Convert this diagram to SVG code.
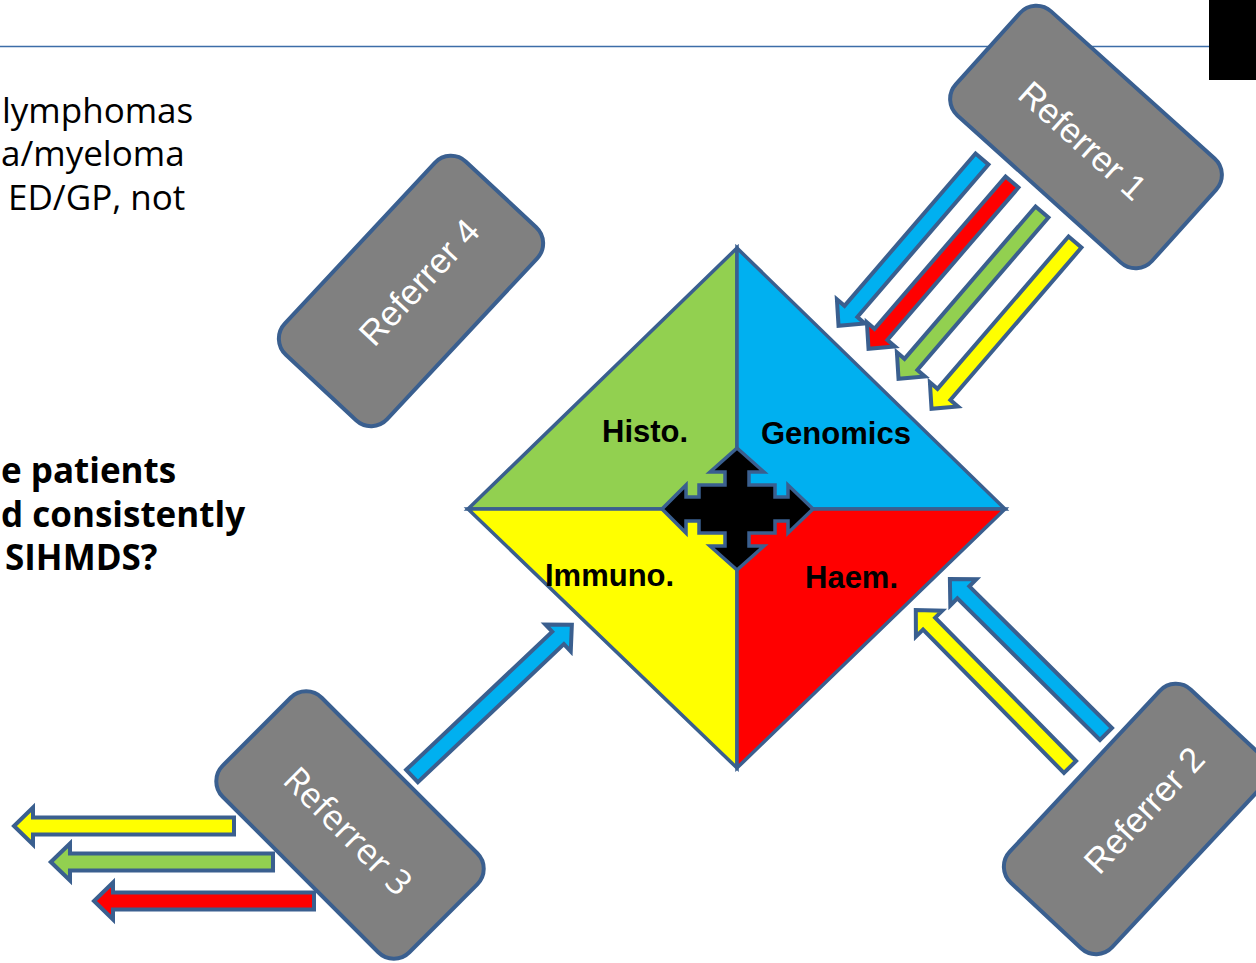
<svg xmlns="http://www.w3.org/2000/svg" width="1256" height="963" viewBox="0 0 1256 963">
<style>
.body{font-family:"Open Sans","Noto Sans","DejaVu Sans",sans-serif;font-size:35px;fill:#000}
.bold{font-weight:bold}
.ref{fill:#808080;stroke:#3A5F8F;stroke-width:4}
.reft{font-family:"Liberation Sans",Arial,sans-serif;font-size:35px;fill:#fff;text-anchor:middle}
.q{stroke:#3A5F8F;stroke-width:3.5;stroke-linejoin:miter}
.lab{font-family:"Liberation Sans",Arial,sans-serif;font-size:31px;font-weight:bold;fill:#000}
.arr{stroke:#3A5F8F;stroke-width:4;stroke-linejoin:miter}
</style>
<defs>
<path id="a220" d="M0,-8.5 L201,-8.5 L201,-18.5 L220,0 L201,18.5 L201,8.5 L0,8.5 Z"/>
</defs>
<rect x="0" y="0" width="1256" height="963" fill="#fff"/>
<line x1="0" y1="46.5" x2="1210" y2="46.5" stroke="#3C6DA8" stroke-width="1.5"/>
<rect x="1209" y="0" width="47" height="80" fill="#000"/>

<g id="body-text">
<text class="body" x="2" y="123">lymphomas</text>
<text class="body" x="1" y="166">a/myeloma</text>
<text class="body" x="8" y="210">ED/GP, not</text>
<text class="body bold" x="1" y="483">e patients</text>
<text class="body bold" x="1" y="527">d consistently</text>
<text class="body bold" x="5" y="570">SIHMDS?</text>
</g>

<g id="hub">
<polygon class="q" fill="#92D050" points="737,248 468,509 737,509"/>
<polygon class="q" fill="#00B0F0" points="737,248 1005,509 737,509"/>
<polygon class="q" fill="#FFFF00" points="468,509 737,768 737,509"/>
<polygon class="q" fill="#FF0000" points="1005,509 737,768 737,509"/>
<path class="q" fill="#000" transform="translate(737,509)" d="M0,-61 L27,-37 L12,-37 L12,-24 L38,-24 L38,-12 L51,-12 L51,-24 L76,0 L51,24 L51,12 L38,12 L38,24 L12,24 L12,37 L27,37 L0,61 L-27,37 L-12,37 L-12,24 L-38,24 L-38,12 L-51,12 L-51,24 L-75,0 L-51,-24 L-51,-12 L-38,-12 L-38,-24 L-12,-24 L-12,-37 L-27,-37 Z"/>
<text class="lab" x="602" y="442">Histo.</text>
<text class="lab" x="761" y="444">Genomics</text>
<text class="lab" x="545" y="586">Immuno.</text>
<text class="lab" x="805" y="588">Haem.</text>
</g>

<g id="referrer1" transform="translate(1086,137) rotate(42)">
<rect class="ref" x="-132" y="-70" width="264" height="140" rx="22"/>
<text class="reft" x="0" y="17">Referrer 1</text>
</g>
<g id="referrer2" transform="translate(1136,819) rotate(-47)">
<rect class="ref" x="-132" y="-70" width="264" height="140" rx="22"/>
<text class="reft" x="12" y="12">Referrer 2</text>
</g>
<g id="referrer3" transform="translate(350,825) rotate(45)">
<rect class="ref" x="-132" y="-70" width="264" height="140" rx="22"/>
<text class="reft" x="3" y="18" style="font-family:'Open Sans','Noto Sans',sans-serif">Referrer 3</text>
</g>
<g id="referrer4" transform="translate(411,291) rotate(-47)">
<rect class="ref" x="-132" y="-70" width="264" height="140" rx="22"/>
<text class="reft" x="12" y="12">Referrer 4</text>
</g>

<g id="connectors">
<use href="#a220" class="arr" fill="#00B0F0" transform="translate(982,159) rotate(130.7)"/>
<use href="#a220" class="arr" fill="#FF0000" transform="translate(1012,182) rotate(130.7)"/>
<use href="#a220" class="arr" fill="#92D050" transform="translate(1042,212) rotate(130.7)"/>
<use href="#a220" class="arr" fill="#FFFF00" transform="translate(1075,242) rotate(130.7)"/>
<use href="#a220" class="arr" fill="#00B0F0" transform="translate(1106,734) rotate(-135.2)"/>
<use href="#a220" class="arr" fill="#FFFF00" transform="translate(1070,767) rotate(-134.5)"/>
<use href="#a220" class="arr" fill="#00B0F0" transform="translate(412,776) rotate(-43.4)"/>
<use href="#a220" class="arr" fill="#FFFF00" transform="translate(234,826) rotate(180)"/>
<use href="#a220" class="arr" fill="#92D050" transform="translate(273,862) rotate(180) scale(1.01,1)"/>
<use href="#a220" class="arr" fill="#FF0000" transform="translate(314,901) rotate(180)"/>
</g>
</svg>
